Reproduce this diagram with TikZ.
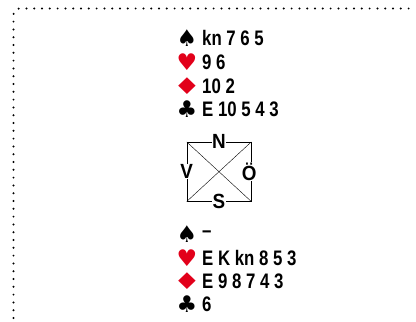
\documentclass[tikz,border=0pt]{standalone}
\usepackage{fontspec}
\newfontfamily\cardfont{Liberation Sans Bold}[FakeStretch=0.8]
\newfontfamily\seatfont{Liberation Sans Bold}[FakeStretch=0.92]
\newfontfamily\suitfont{DejaVu Sans}
\definecolor{suitred}{RGB}{226,0,26}
\newcommand{\rutor}{\scalebox{1.35}[1]{♦}}

\begin{document}
\begin{tikzpicture}[
  x=1pt, y=-1pt,
  suit/.style={inner sep=0pt, font=\suitfont\fontsize{23}{23}\selectfont},
  redsuit/.style={suit, text=suitred},
  cards/.style={anchor=west, inner sep=0pt, font=\cardfont\fontsize{21}{21}\selectfont},
  seat/.style={fill=white, inner sep=0.5pt, font=\seatfont\fontsize{20.5}{20.5}\selectfont},
  frame/.style={line width=2.2pt, line cap=round, dash pattern=on 0pt off 7.8pt}
]
  \useasboundingbox (0,0) rectangle (416,322);
  \draw[frame, rounded corners=6pt] (13.5,318) |- (416,8.5);

  % north hand
  \node[suit] (ns) at (187,38) {♠};
  \node[redsuit] (nh) at (187,62) {♥};
  \node[redsuit] (nd) at (187,86) {\rutor};
  \node[suit] (nc) at (187,109) {♣};
  \node[cards] (nsc) at (202,38) {kn 7 6 5};
  \node[cards] (nhc) at (202,62) {9 6};
  \node[cards] (ndc) at (202,86) {10 2};
  \node[cards] (ncc) at (202,109) {E 10 5 4 3};

  % table
  \node[draw, line width=0.6pt, minimum width=64pt, minimum height=59pt, inner sep=0pt] (table) at (219,171.7) {};
  \draw[line width=0.4pt] (table.north west) -- (table.south east);
  \draw[line width=0.4pt] (table.north east) -- (table.south west);
  \node[seat] (nord) at (table.north) {N};
  \node[seat] (syd) at (table.south) {S};
  \node[seat] (vast) at (table.west) {V};
  \node[seat] (ost) at ([xshift=-2pt]table.east) {Ö};

  % south hand
  \node[suit] (ss) at (187,234) {♠};
  \node[redsuit] (sh) at (187,258) {♥};
  \node[redsuit] (sd) at (187,281) {\rutor};
  \node[suit] (sc) at (187,304) {♣};
  \node[cards] (ssc) at (202,234) {–};
  \node[cards] (shc) at (202,258) {E K kn 8 5 3};
  \node[cards] (sdc) at (202,281) {E 9 8 7 4 3};
  \node[cards] (scc) at (202,304) {6};
\end{tikzpicture}
\end{document}
